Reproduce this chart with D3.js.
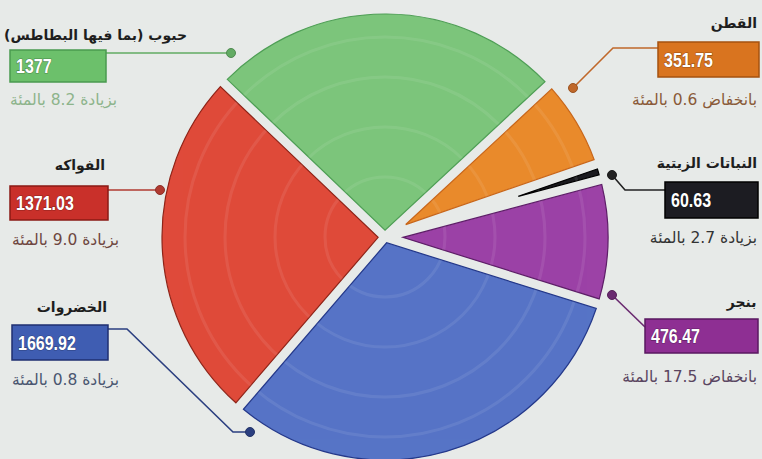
<!DOCTYPE html>
<html><head><meta charset="utf-8">
<script src="https://cdn.jsdelivr.net/npm/d3@7"></script>
<style>
html,body{margin:0;padding:0;background:#e7eae8;}
svg{display:block;}
</style></head>
<body>
<svg id="chart" width="762" height="459"></svg>
<script>
// ---- data ----
const categories = ["حبوب (بما فيها البطاطس)", "القطن", "النباتات الزيتية", "بنجر", "الخضروات", "الفواكه"];
const values = [1377, 351.75, 60.63, 476.47, 1669.92, 1371.03];
const valueLabels = ["1377", "351.75", "60.63", "476.47", "1669.92", "1371.03"];
const changeLabels = ["بزيادة 8.2 بالمئة", "بانخفاض 0.6 بالمئة", "بزيادة 2.7 بالمئة", "بانخفاض 17.5 بالمئة", "بزيادة 0.8 بالمئة", "بزيادة 9.0 بالمئة"];

// ---- styles ----
const fills   = ["#7cc57b", "#e98a2c", "#1b1b1f", "#9c42a6", "#5674c6", "#df4a3a"];
const strokes = ["#4e9e55", "#c8661a", "#000000", "#5e1f68", "#24388a", "#8e2418"];
const boxFill = ["#6cc06b", "#d9741f", "#1c1c22", "#8e2f93", "#3f5db2", "#c9302a"];
const boxEdge = ["#4a9a4f", "#a5520f", "#000000", "#5a1960", "#1f2f70", "#8a1a15"];
const lineCol = ["#62ab63", "#c0682a", "#222222", "#6a2a70", "#2b3f80", "#b03a30"];
const subCol  = ["#8db48b", "#8a5a38", "#333333", "#5a4560", "#4a5670", "#6e4640"];

// ---- layout of annotations ----
const layout = [
  {title:{x:187,y:40}, box:{x:10,y:50,w:96,h:32}, sub:{x:10,y:105,align:"left"}, leader:[[106,53],[231,53]]},
  {title:{x:757,y:28}, box:{x:658,y:42,w:101,h:35}, sub:{x:757,y:105,align:"right"}, leader:[[658,48],[613,48],[573,88]]},
  {title:{x:757,y:168}, box:{x:665,y:182,w:93,h:36}, sub:{x:757,y:243,align:"right"}, leader:[[665,190],[625,190],[612,175]]},
  {title:{x:757,y:307}, box:{x:645,y:319,w:113,h:34}, sub:{x:757,y:382,align:"right"}, leader:[[645,327],[612,295]]},
  {title:{x:107,y:312}, box:{x:12,y:325,w:96,h:35}, sub:{x:12,y:385,align:"left"}, leader:[[108,329],[127,329],[233,432],[250,432]]},
  {title:{x:105,y:170}, box:{x:10,y:186,w:98,h:34}, sub:{x:12,y:245,align:"left"}, leader:[[108,190],[160,190]]}
];

const svg = d3.select("#chart");
const cx = 385, cy = 237, R = 223, gap = 10;

const data = categories.map((c,i)=>({cat:c, value:values[i], i}));
const start = -46.3 * Math.PI/180;
const pie = d3.pie().sort(null).value(d=>d.value).startAngle(start).endAngle(start + 2*Math.PI);
const arcs = pie(data);

const g = svg.append("g").attr("transform", `translate(${cx},${cy})`);
const arcGen = d3.arc()
  .outerRadius(R)
  .innerRadius(d => (gap/2) / Math.sin((d.endAngle - d.startAngle)/2) - 0.01)
  .padRadius(R)
  .padAngle(gap / R);

g.selectAll("path.slice").data(arcs).enter().append("path")
  .attr("class","slice")
  .attr("d", arcGen)
  .attr("fill", d => fills[d.index])
  .attr("stroke", d => strokes[d.index])
  .attr("stroke-width", 1.2);

// subtle texture rings
const defs = svg.append("defs");
const cp = defs.append("clipPath").attr("id","pieclip");
cp.selectAll("path").data(arcs).enter().append("path").attr("d", arcGen);
const tex = g.append("g").attr("opacity",0.08).attr("pointer-events","none").attr("clip-path","url(#pieclip)");
[60, 110, 160, 200].forEach(r=>{
  tex.append("circle").attr("r", r).attr("fill","none").attr("stroke","#ffffff").attr("stroke-width",3);
});

// ---- annotations ----
const ann = svg.append("g");
data.forEach((d,i)=>{
  const L = layout[i];
  // leader line
  ann.append("path")
    .attr("d", d3.line()(L.leader))
    .attr("fill","none").attr("stroke", lineCol[i]).attr("stroke-width",1.6);
  const end = L.leader[L.leader.length-1];
  ann.append("circle").attr("cx", end[0]).attr("cy", end[1]).attr("r", 4.5)
    .attr("fill", lineCol[i]).attr("stroke", d3.color(lineCol[i]).darker(0.6)).attr("stroke-width",1);

  // box
  ann.append("rect").attr("x", L.box.x).attr("y", L.box.y).attr("width", L.box.w).attr("height", L.box.h)
    .attr("fill", boxFill[i]).attr("stroke", boxEdge[i]).attr("stroke-width",1.5);
  const tx = L.box.x + 6, ty = L.box.y + L.box.h/2 + 7;
  ann.append("text")
    .attr("transform", `translate(${tx},${ty}) scale(0.8,1)`)
    .attr("font-family", "'Liberation Sans','Arimo',sans-serif")
    .attr("font-weight", "bold").attr("font-size", 20)
    .attr("fill", "#ffffff")
    .style("paint-order","stroke").attr("stroke","rgba(0,0,0,0.35)").attr("stroke-width",1.2)
    .text(valueLabels[i]);

  // title (right edge at title.x)
  const t = ann.append("text")
    .attr("direction","rtl").attr("text-anchor","middle")
    .attr("font-family","'DejaVu Sans',sans-serif").attr("font-weight","bold").attr("font-size",14)
    .attr("fill","#1e1e1e").attr("y", L.title.y).attr("x", 0)
    .text(d.cat);
  const tw = t.node().getBBox().width;
  t.attr("x", L.title.x - tw/2);

  // change label
  const s = ann.append("text")
    .attr("direction","rtl").attr("text-anchor","middle")
    .attr("font-family","'DejaVu Sans',sans-serif").attr("font-size",15.5)
    .attr("fill", subCol[i]).attr("y", L.sub.y).attr("x", 0)
    .text(changeLabels[i]);
  const sw = s.node().getBBox().width;
  s.attr("x", L.sub.align === "left" ? L.sub.x + sw/2 : L.sub.x - sw/2);
});
</script>
</body></html>
